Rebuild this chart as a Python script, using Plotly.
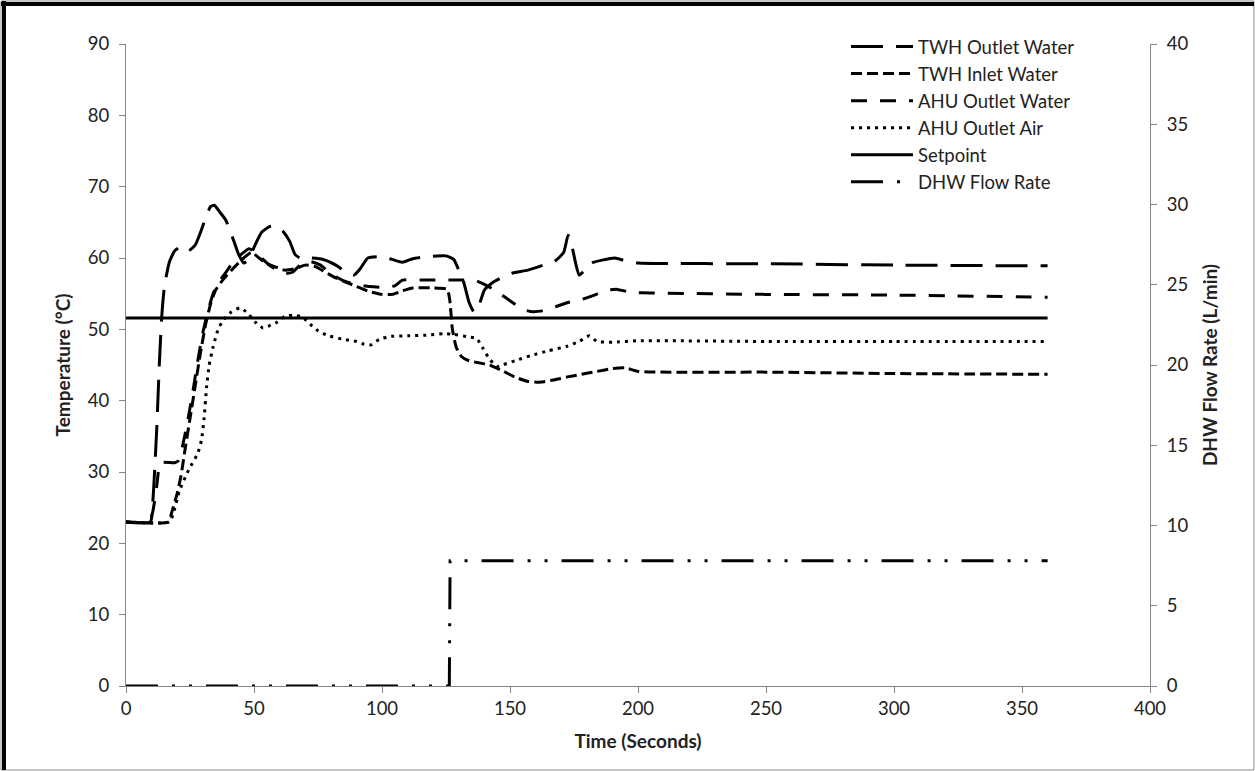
import plotly.graph_objects as go

# ---- measured series -------------------------------------------------------
twh_out_t = [0, 9.5, 10.5, 12, 13, 14, 15, 17, 19, 21, 24, 27, 29, 31, 33, 34.5, 36.5, 39, 42, 44,
             46, 48, 50, 53, 56, 58, 61, 64, 66, 68, 72, 77, 82, 86, 89, 91.5, 94.5, 100, 104, 108,
             112, 118, 125, 128, 130, 132, 134, 136, 138, 140, 143, 147, 151, 157, 163, 168, 171,
             172.7, 174, 175.5, 177, 179, 182, 186, 191, 195, 200, 250, 300, 360]
twh_out_T = [23, 23, 26, 36, 45, 52, 56, 59.5, 61, 61.5, 60.9, 61.8, 63.5, 65.5, 67.2, 67.4, 66.5, 65.3, 62.5, 60.5,
             59.3, 59.8, 61.5, 63.6, 64.4, 64.5, 63.9, 62.3, 60.5, 60, 60, 59.8, 59, 58, 57.6, 58.5, 60, 60.2, 59.8, 59.4,
             59.9, 60.2, 60.3, 59.8, 58.3, 56.5, 53.8, 52.4, 53.5, 55.5, 56.5, 57.3, 57.9, 58.3, 59, 59.7, 60.8,
             63.2, 62, 59.5, 57.6, 58.2, 59.3, 59.7, 60, 59.6, 59.3, 59.2, 59.0, 58.9]

twh_in_t = [0, 16.5, 18, 20, 21.5, 23, 25, 27, 29, 31, 33, 35, 38, 42, 46, 49, 52, 55, 58, 62, 66, 70,
            74, 78, 82, 86, 90, 95, 100, 104, 108, 112, 120, 125.5, 126.5, 127.5, 129, 131, 134, 138,
            142, 147, 152, 157, 162, 167, 172, 178, 184, 190, 195, 200, 250, 300, 360]
twh_in_T = [23, 23, 24.5, 27, 29.5, 33, 37.5, 42, 46.5, 50.5, 53.5, 55.5, 57, 58.6, 60, 60.8, 60, 59.2, 58.8, 58.3, 58.5, 59,
            58.8, 58, 57.2, 56.6, 56, 55.3, 54.9, 54.9, 55.4, 55.8, 55.8, 55.6, 54, 50, 47.5, 46.2, 45.6, 45.3,
            45, 44.2, 43.3, 42.7, 42.6, 42.9, 43.3, 43.7, 44.1, 44.5, 44.6, 44.1, 44, 43.8, 43.7]

ahu_water_t = [0, 9, 10.5, 12, 13.5, 19, 20.5, 22, 24, 26, 28, 30, 32, 34, 36, 39, 42, 45, 48, 50, 53, 56,
               59, 62, 65, 68, 72, 76, 80, 85, 90, 95, 100, 105, 108, 115, 126, 130, 136, 140, 145, 150,
               155, 158, 163, 168, 173, 178, 183, 188, 192, 197, 205, 250, 300, 360]
ahu_water_T = [23, 23, 24.5, 28, 31.3, 31.3, 31.6, 33.5, 37, 41, 45.5, 49.5, 52.5, 55, 56.5, 58, 59.5, 60.5, 61.3, 61, 60, 59,
               58.3, 57.8, 58, 59, 59.5, 59, 57.8, 56.8, 56.3, 56, 55.9, 56.1, 56.9, 56.9, 56.9, 56.9, 56.9, 56.3, 55.3, 54,
               52.8, 52.5, 52.6, 53.2, 53.8, 54.2, 54.8, 55.5, 55.6, 55.2, 55.1, 54.9, 54.8, 54.5]

ahu_air_t = [0, 17, 18.5, 21, 24.5, 28, 29.5, 30.5, 31.5, 32.5, 34, 36, 38, 41, 44.5, 47.5, 50.5, 53.5, 56,
             59, 62, 65.5, 69, 72, 75, 79, 85, 90, 93, 95.5, 99, 103, 110, 118, 124, 128, 133, 137, 139.5,
             142, 145, 147, 152, 158, 165, 172, 177, 181, 184, 190, 200, 250, 300, 360]
ahu_air_T = [23, 23, 24.2, 27.5, 30.3, 32.6, 34.5, 37.5, 42, 45, 47.5, 50, 51.3, 52.4, 53, 52.3, 51, 50.2, 50.5,
             51, 51.8, 52, 51.7, 50.7, 49.8, 49.1, 48.6, 48.3, 47.9, 47.8, 48.6, 49, 49.1, 49.2, 49.4, 49.3, 49, 48.7, 47.3,
             45.8, 44.8, 45, 45.6, 46.3, 47, 47.6, 48.3, 49.1, 48.3, 48.2, 48.4, 48.3, 48.3, 48.3]

setpoint_t = [0, 360]
setpoint_T = [51.6, 51.6]

dhw_t = [0, 126.3, 126.6, 360]
dhw_flow = [0, 0, 7.8, 7.8]

x_ticks = [0, 50, 100, 150, 200, 250, 300, 350, 400]
temp_ticks = [0, 10, 20, 30, 40, 50, 60, 70, 80, 90]
flow_ticks = [0, 5, 10, 15, 20, 25, 30, 35, 40]

# ---- figure ---------------------------------------------------------------
FONT = "Lato"
AXIS_GREY = "#868686"
TEXT = "#222222"
W, H = 1255, 771
ML, MR, MT, MB = 126, 105, 44, 85

fig = go.Figure()

def add_line(x, y, name, dash, axis="y", shape="spline"):
    fig.add_trace(go.Scatter(
        x=x, y=y, name=name, yaxis=axis, mode="lines",
        line=dict(color="black", width=3, dash=dash, shape=shape,
                  smoothing=0.5 if shape == "spline" else None),
    ))

add_line(twh_out_t, twh_out_T, "TWH Outlet Water", "32px,13px")
add_line(twh_in_t, twh_in_T, "TWH Inlet Water", "11px,5px")
add_line(ahu_water_t, ahu_water_T, "AHU Outlet Water", "16px,13px")
add_line(ahu_air_t, ahu_air_T, "AHU Outlet Air", "3px,5px")
add_line(setpoint_t, setpoint_T, "Setpoint", "solid", shape="linear")
add_line(dhw_t, dhw_flow, "DHW Flow Rate", "32px,14px,3px,14px,3px,14px", axis="y2", shape="linear")

axis_common = dict(
    showgrid=False, zeroline=False, showline=True, linecolor=AXIS_GREY, linewidth=1,
    ticks="outside", tickcolor=AXIS_GREY, ticklen=6, tickwidth=1,
    tickfont=dict(family=FONT, size=18.5, color=TEXT),
)
title_font = dict(family=FONT, size=19, color=TEXT)

fig.update_layout(
    width=W, height=H,
    margin=dict(l=ML, r=MR, t=MT, b=MB, pad=0),
    paper_bgcolor="white", plot_bgcolor="white",
    font=dict(family=FONT, color=TEXT),
    xaxis=dict(range=[0, 400], tickvals=x_ticks, **axis_common,
               title=dict(text="<b>Time (Seconds)</b>", font=title_font, standoff=16)),
    yaxis=dict(range=[0, 90], tickvals=temp_ticks, ticklabelstandoff=6, **axis_common,
               title=dict(text="<b>Temperature (°C)</b>", font=title_font, standoff=12)),
    yaxis2=dict(range=[0, 40], tickvals=flow_ticks, overlaying="y", side="right",
                ticklabelstandoff=6, **axis_common,
                title=dict(text="<b>DHW Flow Rate (L/min)</b>", font=title_font, standoff=16)),
    showlegend=True,
    legend=dict(
        x=(846 - ML) / (W - ML - MR), y=(H - MB - 28) / (H - MT - MB),
        xanchor="left", yanchor="top",
        font=dict(family=FONT, size=18.5, color=TEXT),
        bgcolor="rgba(0,0,0,0)", itemwidth=62,
        traceorder="normal",
    ),
)

# chart frame around the whole drawing
pw, ph = W - ML - MR, H - MT - MB
def px_x(p):
    return (p - ML) / pw
def px_y(p):
    return (H - MB - p) / ph

fig.add_shape(type="rect", xref="paper", yref="paper",
              x0=px_x(1), x1=px_x(1254), y0=px_y(770), y1=px_y(1),
              line=dict(color="#8c8c8c", width=1), layer="below")
fig.add_shape(type="line", xref="paper", yref="paper",
              x0=px_x(1), x1=px_x(1254), y0=px_y(4), y1=px_y(4),
              line=dict(color="black", width=4))
fig.add_shape(type="line", xref="paper", yref="paper",
              x0=px_x(4), x1=px_x(4), y0=px_y(770), y1=px_y(1),
              line=dict(color="black", width=4))

fig.write_html("out.html")
